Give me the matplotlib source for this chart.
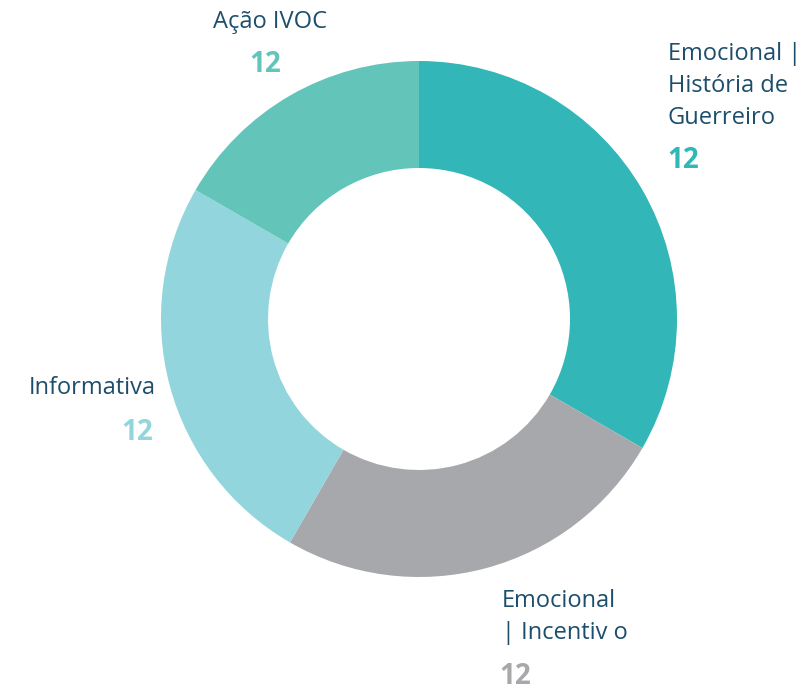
import matplotlib.pyplot as plt

# slices, clockwise from 12 o'clock
labels = ["Emocional |\nHistória de\nGuerreiro", "Emocional\n| Incentiv o", "Informativa", "Ação IVOC"]
values = [4, 3, 3, 2]
shown = ["12", "12", "12", "12"]
colors = ["#33b6b8", "#a7a8ab", "#92d5dc", "#63c5b9"]
text_color = "#1d4e6b"

plt.rcParams['font.family'] = ['Open Sans', 'DejaVu Sans']

fig = plt.figure(figsize=(8.09, 6.89), dpi=100)
ax = fig.add_axes([0, 0, 1, 1])
ax.axis('off')

ax.pie(values, colors=colors, startangle=90, counterclock=False,
       radius=258, center=(419, 689 - 319),
       wedgeprops=dict(width=107, edgecolor='none'))
ax.set_xlim(0, 809)
ax.set_ylim(0, 689)
ax.set_aspect('equal')

# label positions in pixels (x, y from top), alignment
name_pos = [(668, 86, 'left'), (502, 617, 'left'), (156, 388, 'right'), (327, 22, 'right')]
num_pos = [(667, 160, 'left'), (499, 676, 'left'), (153, 432, 'right'), (281, 64, 'right')]

for i in range(len(labels)):
    x, y, ha = name_pos[i]
    ax.text(x, 689 - y, labels[i], ha=ha, va='center', fontsize=17,
            color=text_color, linespacing=1.47, fontweight='normal')
    x, y, ha = num_pos[i]
    ax.text(x, 689 - y, shown[i], ha=ha, va='center', fontsize=20,
            fontweight='bold', color=colors[i])

fig.savefig("out.png", dpi=100)
